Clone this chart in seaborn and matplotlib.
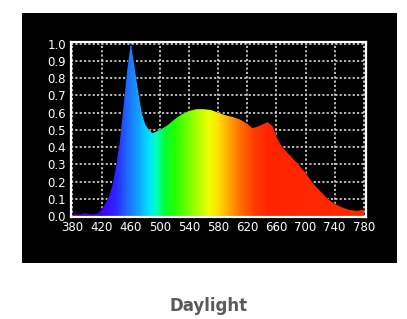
import numpy as np
import pandas as pd
import matplotlib
matplotlib.use("Agg")
import matplotlib.pyplot as plt
import seaborn as sns
from matplotlib.colors import LinearSegmentedColormap
from matplotlib.patches import Rectangle

# ---- data ----
wavelength = [380, 390, 395, 400, 405, 410, 415, 420, 425, 430, 435, 440, 445,
              450, 455, 460, 465, 470, 475, 480, 485, 490, 495, 500, 510, 520,
              530, 540, 550, 560, 570, 580, 590, 600, 610, 620, 627, 635, 640,
              648, 655, 660, 665, 670, 680, 690, 700, 710, 720, 730, 740, 750,
              760, 770, 780]
intensity = [0.010, 0.010, 0.015, 0.015, 0.010, 0.010, 0.015, 0.035, 0.070,
             0.110, 0.180, 0.290, 0.430, 0.630, 0.840, 1.000, 0.870, 0.730,
             0.600, 0.530, 0.500, 0.480, 0.490, 0.500, 0.525, 0.560, 0.590,
             0.610, 0.620, 0.620, 0.615, 0.600, 0.585, 0.575, 0.560, 0.535,
             0.510, 0.520, 0.530, 0.545, 0.520, 0.460, 0.420, 0.390, 0.345,
             0.300, 0.250, 0.190, 0.145, 0.100, 0.070, 0.050, 0.035, 0.030,
             0.035]
x_ticks = [380, 420, 460, 500, 540, 580, 620, 660, 700, 740, 780]
y_ticks = [0.0, 0.1, 0.2, 0.3, 0.4, 0.5, 0.6, 0.7, 0.8, 0.9, 1.0]
title = "Daylight"

df = pd.DataFrame({"wavelength": wavelength, "intensity": intensity})

# spectral colour stops (style)
stops = [(380, "#5000b0"), (420, "#4000ff"), (440, "#2a28ff"), (455, "#2068ff"),
         (470, "#10a0ff"), (485, "#00e4ff"), (495, "#00ffc8"), (505, "#00ff40"),
         (520, "#20ff00"), (545, "#90ff00"), (568, "#f0ff00"), (580, "#ffe000"),
         (595, "#ffa800"), (612, "#ff6a00"), (630, "#ff3a00"), (650, "#ff2400"),
         (780, "#ff2a00")]
lo, hi = 380, 780
cmap = LinearSegmentedColormap.from_list(
    "spec", [((w - lo) / (hi - lo), c) for w, c in stops])

sns.set_style("dark", {"axes.facecolor": "black", "figure.facecolor": "white"})

W, H = 407, 319
fig = plt.figure(figsize=(W / 100, H / 100), dpi=100)
fig.patches.append(Rectangle((22 / W, 1 - 263 / H), 375 / W, 250 / H,
                             transform=fig.transFigure, facecolor="black",
                             edgecolor="none", zorder=-5))
ax = fig.add_axes([71 / W, 1 - 217 / H, 295 / W, 175 / H])
ax.set_zorder(2)
ax.set_facecolor("black")

sns.lineplot(data=df, x="wavelength", y="intensity", ax=ax, color="black",
             linewidth=0.5, zorder=3)

poly = ax.fill_between(df["wavelength"], 0, df["intensity"], facecolor="none",
                       edgecolor="none")
grad = np.linspace(0, 1, 800).reshape(1, -1)
im = ax.imshow(grad, cmap=cmap, extent=[lo, hi, 0, 1.0], aspect="auto",
               origin="lower", zorder=4, interpolation="bilinear")
clip = poly.get_paths()[0]
im.set_clip_path(clip, transform=ax.transData)

ax.set_xlim(378, 783)
ax.set_ylim(-0.006, 1.01)
ax.set_xticks(x_ticks)
ax.set_yticks(y_ticks)
ax.set_xticklabels([str(t) for t in x_ticks])
ax.set_yticklabels([f"{t:.1f}" for t in y_ticks])
ax.tick_params(colors="white", labelsize=8.5, length=0)
ax.tick_params(axis="y", pad=3.5)
ax.tick_params(axis="x", pad=3)
for lab in ax.get_xticklabels() + ax.get_yticklabels():
    lab.set_color("white")
ax.set_xlabel("")
ax.set_ylabel("")

ax.grid(True, color="#c8c8c8", linestyle=(0, (1.2, 1.2)), linewidth=1.3)
ax.set_axisbelow(True)
for s in ax.spines.values():
    s.set_visible(True)
    s.set_color("white")
    s.set_linewidth(1.6)
    s.set_zorder(6)

fig.text(209 / W, 1 - 306 / H, title, ha="center", va="center",
         fontsize=12, fontweight="bold", color="#5a5a5a")

fig.savefig("out.png", dpi=100, facecolor="white")
